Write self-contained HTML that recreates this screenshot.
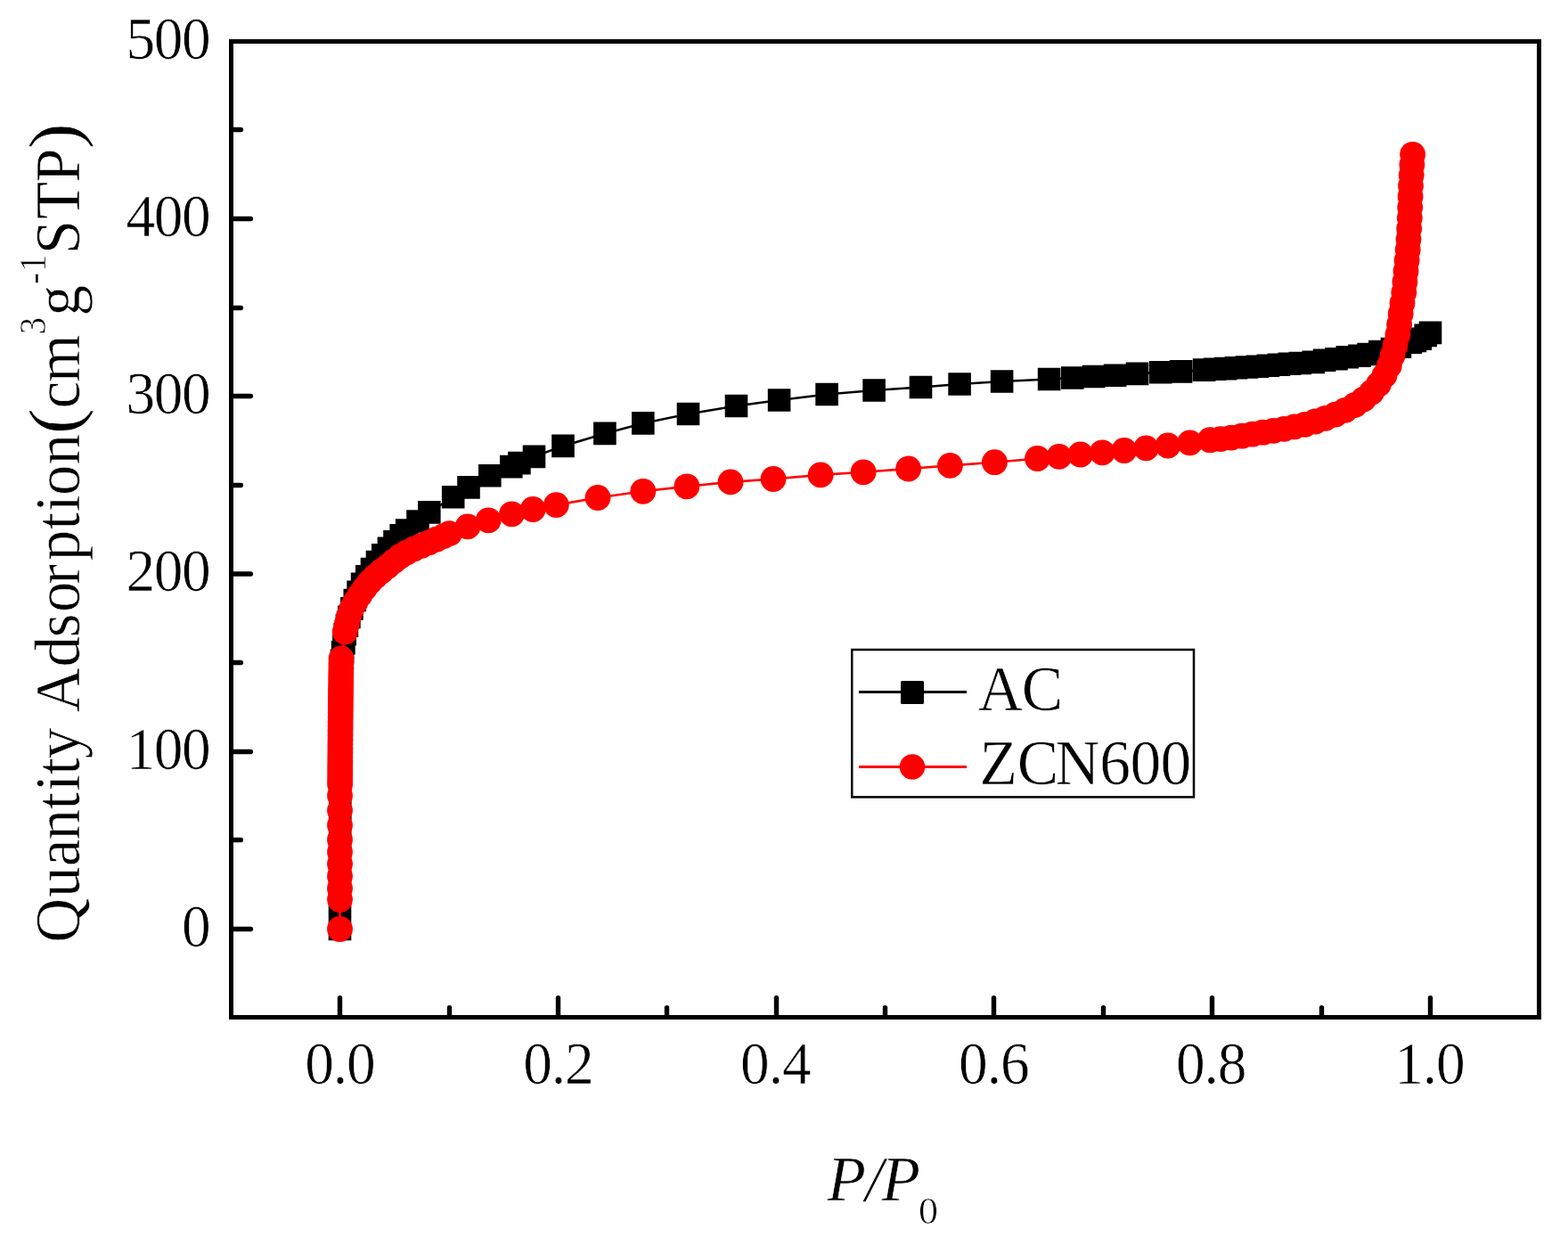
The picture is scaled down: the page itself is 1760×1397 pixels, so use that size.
<!DOCTYPE html>
<html lang="en"><head><meta charset="utf-8"><title>N2 adsorption isotherms</title>
<style>html,body{margin:0;padding:0;background:#fff}body{width:1760px;height:1397px;overflow:hidden}svg{display:block}text{font-family:"Liberation Serif",serif;fill:#000;font-kerning:none;stroke:#fff;stroke-width:.6px;paint-order:fill stroke}.i{font-style:italic}</style></head><body>
<svg width="1760" height="1397" viewBox="0 0 1760 1397">
<rect width="1760" height="1397" fill="#fff"/>
<g shape-rendering="crispEdges" fill="none" stroke="#000" stroke-width="5">
<rect x="259.5" y="46.5" width="1468" height="1095"/>
</g>
<g fill="none" stroke="#000" stroke-width="5.4" stroke-linecap="round">
<path d="M261 1042.5H281.4M261 942.5H270.4M261 843.5H281.4M261 743.5H270.4M261 644H281.4M261 544.5H270.4M261 444.5H281.4M261 345.5H270.4M261 245.5H281.4M261 145.5H270.4M381.5 1140V1119.6M504.5 1140V1130.6M626.5 1140V1119.6M748.5 1140V1130.6M871.5 1140V1119.6M993.5 1140V1130.6M1115.5 1140V1119.6M1238.5 1140V1130.6M1360.5 1140V1119.6M1483.5 1140V1130.6M1605.5 1140V1119.6"/>
</g>
<g font-size="68.35">
<text transform="scale(0.957 1)" x="213.24" y="1061.9">0</text>
<text transform="scale(0.957 1)" x="147.93 180.59 213.24" y="862.7">100</text>
<text transform="scale(0.957 1)" x="147.93 180.59 213.24" y="663.5">200</text>
<text transform="scale(0.957 1)" x="147.93 180.59 213.24" y="464.3">300</text>
<text transform="scale(0.957 1)" x="147.93 180.59 213.24" y="265.1">400</text>
<text transform="scale(0.957 1)" x="147.93 180.59 213.24" y="65.9">500</text>
<text transform="scale(0.957 1)" x="357.65 390.67 406.61" y="1215.6">0.0</text>
<text transform="scale(0.957 1)" x="613.66 646.68 662.61" y="1215.6">0.2</text>
<text transform="scale(0.957 1)" x="868.41 901.44 917.37" y="1215.6">0.4</text>
<text transform="scale(0.957 1)" x="1124.42 1157.44 1173.38" y="1215.6">0.6</text>
<text transform="scale(0.957 1)" x="1379.28 1412.30 1428.24" y="1215.6">0.8</text>
<text transform="scale(0.957 1)" x="1635.55 1668.57 1684.51" y="1215.6">1.0</text>
</g>
<text transform="scale(1.0 1)" x="928.43 971.13 989.57" y="1346.9" font-size="71.2" class="i">P/P</text>
<text transform="scale(1.04 1)" x="991.37" y="1372.6" font-size="42.3">0</text>
<g transform="translate(88.5 1053.9) rotate(-90)">
<text transform="scale(0.965 1)" x="-3.93 48.53 84.50 115.47 150.96 171.97 191.02 210.07" y="0" font-size="71.5">Quantity</text>
<text transform="scale(0.965 1)" x="263.84 316.45 350.94 380.10 412.41 439.99 476.25 496.84 515.86 551.59" y="0" font-size="71.5">Adsorption</text>
<text transform="scale(1.09 1)" x="519.97" y="-0.5" font-size="80.3">(</text>
<text transform="scale(0.965 1)" x="617.08 647.54" y="0" font-size="71.5">cm</text>
<text transform="scale(0.9 1)" x="754.17" y="-37.3" font-size="42.8">3</text>
<text transform="scale(0.965 1)" x="724.90" y="0" font-size="71.5">g</text>
<text transform="scale(0.9 1)" x="816.74 831.98" y="-37.3" font-size="42.8">-1</text>
<text transform="scale(0.965 1)" x="796.42 837.13 879.90" y="0" font-size="71.5">STP</text>
<text transform="scale(1.09 1)" x="813.43" y="-0.5" font-size="80.3">)</text>
</g>
<g id="ac">
<polyline points="381.5,1042.5 381.5,1030 381.5,1018 381.5,1005 381.5,993 381.6,981 381.6,969 381.6,957 381.7,945 381.7,933 381.7,921 381.8,909 381.8,897 381.9,885 382,873 382.1,861 382.2,849 382.2,837 382.3,825 382.4,813 382.5,801 382.7,789 382.9,777 383.1,765 383.3,753 383.5,741.6 384.6,731.7 385.9,721.7 387.2,711.8 389.4,702.1 391.9,692.4 394.9,682.9 398.3,673.5 402.1,664.2 406.6,655.3 411.7,646.7 417.5,638.6 423.5,630.6 429.8,622.8 436.4,615.3 443,607.8 450.2,600.9 456.7,595 469,585 481.8,574.9 508.7,557.8 526,546.9 549.8,533.8 573.8,523.6 582.9,519.6 599.5,512.4 632,500.4 678.9,486.4 721.8,474.9 772.5,464.5 826.5,455.5 874.6,449 928.1,442.5 981.1,438 1033.5,434.5 1077.1,431 1124.6,428 1177.6,425.5 1203.8,424 1227.6,422.5 1251.6,421.2 1276.5,419.4 1302.7,417.8 1325.6,416.9 1351.6,415.1 1363.6,414.3 1375.6,413.6 1387.5,412.8 1399.5,412 1411.5,411.2 1423.4,410.2 1435.4,409.3 1447.4,408.3 1459.3,407.5 1474.3,406.4 1486.6,404.3 1500,402.8 1512.3,400.8 1526,399.3 1536.1,397.5 1548.9,394.6 1562.5,391.6 1571.4,389.3 1583.4,384.3 1588.4,382.5 1594.3,380.2 1600.2,376.4 1605.5,373.4" fill="none" stroke="#000" stroke-width="2.6"/>
<path fill="#000" d="M368.7 1029.7h25.6v25.6h-25.6zM368.7 1017.2h25.6v25.6h-25.6zM368.7 1005.2h25.6v25.6h-25.6zM368.7 992.2h25.6v25.6h-25.6zM368.7 980.2h25.6v25.6h-25.6zM368.8 968.2h25.6v25.6h-25.6zM368.8 956.2h25.6v25.6h-25.6zM368.8 944.2h25.6v25.6h-25.6zM368.9 932.2h25.6v25.6h-25.6zM368.9 920.2h25.6v25.6h-25.6zM368.9 908.2h25.6v25.6h-25.6zM369 896.2h25.6v25.6h-25.6zM369 884.2h25.6v25.6h-25.6zM369.1 872.2h25.6v25.6h-25.6zM369.2 860.2h25.6v25.6h-25.6zM369.3 848.2h25.6v25.6h-25.6zM369.4 836.2h25.6v25.6h-25.6zM369.4 824.2h25.6v25.6h-25.6zM369.5 812.2h25.6v25.6h-25.6zM369.6 800.2h25.6v25.6h-25.6zM369.7 788.2h25.6v25.6h-25.6zM369.9 776.2h25.6v25.6h-25.6zM370.1 764.2h25.6v25.6h-25.6zM370.3 752.2h25.6v25.6h-25.6zM370.5 740.2h25.6v25.6h-25.6zM370.7 728.8h25.6v25.6h-25.6zM371.8 718.9h25.6v25.6h-25.6zM373.1 708.9h25.6v25.6h-25.6zM374.4 699h25.6v25.6h-25.6zM376.6 689.3h25.6v25.6h-25.6zM379.1 679.6h25.6v25.6h-25.6zM382.1 670.1h25.6v25.6h-25.6zM385.5 660.7h25.6v25.6h-25.6zM389.3 651.4h25.6v25.6h-25.6zM393.8 642.5h25.6v25.6h-25.6zM398.9 633.9h25.6v25.6h-25.6zM404.7 625.8h25.6v25.6h-25.6zM410.7 617.8h25.6v25.6h-25.6zM417 610h25.6v25.6h-25.6zM423.6 602.5h25.6v25.6h-25.6zM430.2 595h25.6v25.6h-25.6zM437.4 588.1h25.6v25.6h-25.6zM443.9 582.2h25.6v25.6h-25.6zM456.2 572.2h25.6v25.6h-25.6zM469 562.1h25.6v25.6h-25.6zM495.9 545h25.6v25.6h-25.6zM513.2 534.1h25.6v25.6h-25.6zM537 521h25.6v25.6h-25.6zM561 510.8h25.6v25.6h-25.6zM570.1 506.8h25.6v25.6h-25.6zM586.7 499.6h25.6v25.6h-25.6zM619.2 487.6h25.6v25.6h-25.6zM666.1 473.6h25.6v25.6h-25.6zM709 462.1h25.6v25.6h-25.6zM759.7 451.7h25.6v25.6h-25.6zM813.7 442.7h25.6v25.6h-25.6zM861.8 436.2h25.6v25.6h-25.6zM915.3 429.7h25.6v25.6h-25.6zM968.3 425.2h25.6v25.6h-25.6zM1020.7 421.7h25.6v25.6h-25.6zM1064.3 418.2h25.6v25.6h-25.6zM1111.8 415.2h25.6v25.6h-25.6zM1164.8 412.7h25.6v25.6h-25.6zM1191 411.2h25.6v25.6h-25.6zM1214.8 409.7h25.6v25.6h-25.6zM1238.8 408.4h25.6v25.6h-25.6zM1263.7 406.6h25.6v25.6h-25.6zM1289.9 405h25.6v25.6h-25.6zM1312.8 404.1h25.6v25.6h-25.6zM1338.8 402.3h25.6v25.6h-25.6zM1350.8 401.5h25.6v25.6h-25.6zM1362.8 400.8h25.6v25.6h-25.6zM1374.7 400h25.6v25.6h-25.6zM1386.7 399.2h25.6v25.6h-25.6zM1398.7 398.4h25.6v25.6h-25.6zM1410.6 397.4h25.6v25.6h-25.6zM1422.6 396.5h25.6v25.6h-25.6zM1434.6 395.5h25.6v25.6h-25.6zM1446.5 394.7h25.6v25.6h-25.6zM1461.5 393.6h25.6v25.6h-25.6zM1473.8 391.5h25.6v25.6h-25.6zM1487.2 390h25.6v25.6h-25.6zM1499.5 388h25.6v25.6h-25.6zM1513.2 386.5h25.6v25.6h-25.6zM1523.3 384.7h25.6v25.6h-25.6zM1536.1 381.8h25.6v25.6h-25.6zM1549.7 378.8h25.6v25.6h-25.6zM1558.6 376.5h25.6v25.6h-25.6zM1570.6 371.5h25.6v25.6h-25.6zM1575.6 369.7h25.6v25.6h-25.6zM1581.5 367.4h25.6v25.6h-25.6zM1587.4 363.6h25.6v25.6h-25.6zM1592.7 360.6h25.6v25.6h-25.6z"/>
</g>
<g id="zcn600">
<polyline points="381.5,1042.5 381.5,1009.5 381.5,997 381.5,983.2 381.5,969.5 381.5,955.9 381.5,942.2 381.5,925.9 381.5,909.5 381.5,892.7 381.6,880 381.6,875 381.7,870 381.7,865 381.7,860 381.8,855 381.8,850 381.9,845 381.9,840 381.9,835 382,830 382,825 382,820 382.1,815 382.1,810 382.2,805 382.2,800 382.3,795 382.3,790 382.4,785 382.5,780 382.5,775 382.6,770 382.7,765 382.7,760 382.8,755 382.9,750 382.9,745 383,739 387.2,709 389.3,700.2 391.4,691.5 394.7,683.1 399,675.3 403.9,667.7 409.1,660.4 414.8,653.4 421.1,647 427.9,641.2 435,635.6 441.9,629.9 449.1,624.4 456.8,619.8 464.9,615.8 473.2,612.3 481.5,608.9 489.7,605.2 497.9,601.6 504.5,598.7 524.9,590.9 548.2,583.8 574.5,576.8 598.2,571.5 624.3,566.6 671,558.5 721.8,551.3 770.9,545.8 820,540.9 868,537.5 921.1,532.9 969.1,529.8 1019.6,526 1066.4,522.4 1116.4,518.7 1164.5,514.5 1188.7,512.4 1212.7,510 1237.3,507.8 1261.8,505.5 1286.4,502.9 1310.9,500 1335.5,496.9 1358.2,493.7 1370.1,492.6 1382.1,491.1 1393.9,489.2 1405.7,487.2 1417.6,485.2 1429.4,483.3 1441.3,481.3 1453,478.8 1464.7,476.3 1476.2,473 1487.7,469.3 1498.9,465.1 1509.9,460.3 1520.5,454.7 1530.5,448 1539.5,440.2 1547.4,431.2 1554,421.2 1559.3,410.5 1563,399.1 1566.1,387.5 1568.9,375.8 1570.6,363.9 1572.2,352.1 1574,340.2 1575.8,328.3 1576.9,316.4 1578,304.4 1579.1,292.5 1580.2,280.5 1581,268.6 1581.7,256.6 1582.3,244.6 1582.7,232.6 1583.1,220.6 1583.5,208.6 1584.2,196.6 1584.9,184.7 1585.6,173.3" fill="none" stroke="#f00" stroke-width="2.6"/>
<g fill="#f00"><circle cx="381.5" cy="1042.5" r="14.4"/><circle cx="381.5" cy="1009.5" r="14.4"/><circle cx="381.5" cy="997" r="14.4"/><circle cx="381.5" cy="983.2" r="14.4"/><circle cx="381.5" cy="969.5" r="14.4"/><circle cx="381.5" cy="955.9" r="14.4"/><circle cx="381.5" cy="942.2" r="14.4"/><circle cx="381.5" cy="925.9" r="14.4"/><circle cx="381.5" cy="909.5" r="14.4"/><circle cx="381.5" cy="892.7" r="14.4"/><circle cx="381.6" cy="880" r="14.4"/><circle cx="381.6" cy="875" r="14.4"/><circle cx="381.7" cy="870" r="14.4"/><circle cx="381.7" cy="865" r="14.4"/><circle cx="381.7" cy="860" r="14.4"/><circle cx="381.8" cy="855" r="14.4"/><circle cx="381.8" cy="850" r="14.4"/><circle cx="381.9" cy="845" r="14.4"/><circle cx="381.9" cy="840" r="14.4"/><circle cx="381.9" cy="835" r="14.4"/><circle cx="382" cy="830" r="14.4"/><circle cx="382" cy="825" r="14.4"/><circle cx="382" cy="820" r="14.4"/><circle cx="382.1" cy="815" r="14.4"/><circle cx="382.1" cy="810" r="14.4"/><circle cx="382.2" cy="805" r="14.4"/><circle cx="382.2" cy="800" r="14.4"/><circle cx="382.3" cy="795" r="14.4"/><circle cx="382.3" cy="790" r="14.4"/><circle cx="382.4" cy="785" r="14.4"/><circle cx="382.5" cy="780" r="14.4"/><circle cx="382.5" cy="775" r="14.4"/><circle cx="382.6" cy="770" r="14.4"/><circle cx="382.7" cy="765" r="14.4"/><circle cx="382.7" cy="760" r="14.4"/><circle cx="382.8" cy="755" r="14.4"/><circle cx="382.9" cy="750" r="14.4"/><circle cx="382.9" cy="745" r="14.4"/><circle cx="383" cy="739" r="14.4"/><circle cx="387.2" cy="709" r="14.4"/><circle cx="389.3" cy="700.2" r="14.4"/><circle cx="391.4" cy="691.5" r="14.4"/><circle cx="394.7" cy="683.1" r="14.4"/><circle cx="399" cy="675.3" r="14.4"/><circle cx="403.9" cy="667.7" r="14.4"/><circle cx="409.1" cy="660.4" r="14.4"/><circle cx="414.8" cy="653.4" r="14.4"/><circle cx="421.1" cy="647" r="14.4"/><circle cx="427.9" cy="641.2" r="14.4"/><circle cx="435" cy="635.6" r="14.4"/><circle cx="441.9" cy="629.9" r="14.4"/><circle cx="449.1" cy="624.4" r="14.4"/><circle cx="456.8" cy="619.8" r="14.4"/><circle cx="464.9" cy="615.8" r="14.4"/><circle cx="473.2" cy="612.3" r="14.4"/><circle cx="481.5" cy="608.9" r="14.4"/><circle cx="489.7" cy="605.2" r="14.4"/><circle cx="497.9" cy="601.6" r="14.4"/><circle cx="504.5" cy="598.7" r="14.4"/><circle cx="524.9" cy="590.9" r="14.4"/><circle cx="548.2" cy="583.8" r="14.4"/><circle cx="574.5" cy="576.8" r="14.4"/><circle cx="598.2" cy="571.5" r="14.4"/><circle cx="624.3" cy="566.6" r="14.4"/><circle cx="671" cy="558.5" r="14.4"/><circle cx="721.8" cy="551.3" r="14.4"/><circle cx="770.9" cy="545.8" r="14.4"/><circle cx="820" cy="540.9" r="14.4"/><circle cx="868" cy="537.5" r="14.4"/><circle cx="921.1" cy="532.9" r="14.4"/><circle cx="969.1" cy="529.8" r="14.4"/><circle cx="1019.6" cy="526" r="14.4"/><circle cx="1066.4" cy="522.4" r="14.4"/><circle cx="1116.4" cy="518.7" r="14.4"/><circle cx="1164.5" cy="514.5" r="14.4"/><circle cx="1188.7" cy="512.4" r="14.4"/><circle cx="1212.7" cy="510" r="14.4"/><circle cx="1237.3" cy="507.8" r="14.4"/><circle cx="1261.8" cy="505.5" r="14.4"/><circle cx="1286.4" cy="502.9" r="14.4"/><circle cx="1310.9" cy="500" r="14.4"/><circle cx="1335.5" cy="496.9" r="14.4"/><circle cx="1358.2" cy="493.7" r="14.4"/><circle cx="1370.1" cy="492.6" r="14.4"/><circle cx="1382.1" cy="491.1" r="14.4"/><circle cx="1393.9" cy="489.2" r="14.4"/><circle cx="1405.7" cy="487.2" r="14.4"/><circle cx="1417.6" cy="485.2" r="14.4"/><circle cx="1429.4" cy="483.3" r="14.4"/><circle cx="1441.3" cy="481.3" r="14.4"/><circle cx="1453" cy="478.8" r="14.4"/><circle cx="1464.7" cy="476.3" r="14.4"/><circle cx="1476.2" cy="473" r="14.4"/><circle cx="1487.7" cy="469.3" r="14.4"/><circle cx="1498.9" cy="465.1" r="14.4"/><circle cx="1509.9" cy="460.3" r="14.4"/><circle cx="1520.5" cy="454.7" r="14.4"/><circle cx="1530.5" cy="448" r="14.4"/><circle cx="1539.5" cy="440.2" r="14.4"/><circle cx="1547.4" cy="431.2" r="14.4"/><circle cx="1554" cy="421.2" r="14.4"/><circle cx="1559.3" cy="410.5" r="14.4"/><circle cx="1563" cy="399.1" r="14.4"/><circle cx="1566.1" cy="387.5" r="14.4"/><circle cx="1568.9" cy="375.8" r="14.4"/><circle cx="1570.6" cy="363.9" r="14.4"/><circle cx="1572.2" cy="352.1" r="14.4"/><circle cx="1574" cy="340.2" r="14.4"/><circle cx="1575.8" cy="328.3" r="14.4"/><circle cx="1576.9" cy="316.4" r="14.4"/><circle cx="1578" cy="304.4" r="14.4"/><circle cx="1579.1" cy="292.5" r="14.4"/><circle cx="1580.2" cy="280.5" r="14.4"/><circle cx="1581" cy="268.6" r="14.4"/><circle cx="1581.7" cy="256.6" r="14.4"/><circle cx="1582.3" cy="244.6" r="14.4"/><circle cx="1582.7" cy="232.6" r="14.4"/><circle cx="1583.1" cy="220.6" r="14.4"/><circle cx="1583.5" cy="208.6" r="14.4"/><circle cx="1584.2" cy="196.6" r="14.4"/><circle cx="1584.9" cy="184.7" r="14.4"/><circle cx="1585.6" cy="173.3" r="14.4"/></g>
</g>
<rect x="956.25" y="729" width="383.75" height="165.4" fill="#fff" stroke="#000" stroke-width="2.5"/>
<path d="M964 776.5H1085" stroke="#000" stroke-width="3" shape-rendering="crispEdges"/>
<rect x="1011" y="764" width="26" height="26" rx="1.5" fill="#000"/>
<path d="M964 860.5H1085" stroke="#f00" stroke-width="3" shape-rendering="crispEdges"/>
<circle cx="1024" cy="860.5" r="14.3" fill="#f00"/>
<text transform="scale(0.965 1)" x="1137.64 1188.36" y="796.6" font-size="72">AC</text>
<text transform="scale(0.965 1)" x="1139.34 1183.29 1227.21 1279.04 1314.54 1349.88" y="879.6" font-size="72">ZCN600</text>
</svg></body></html>
